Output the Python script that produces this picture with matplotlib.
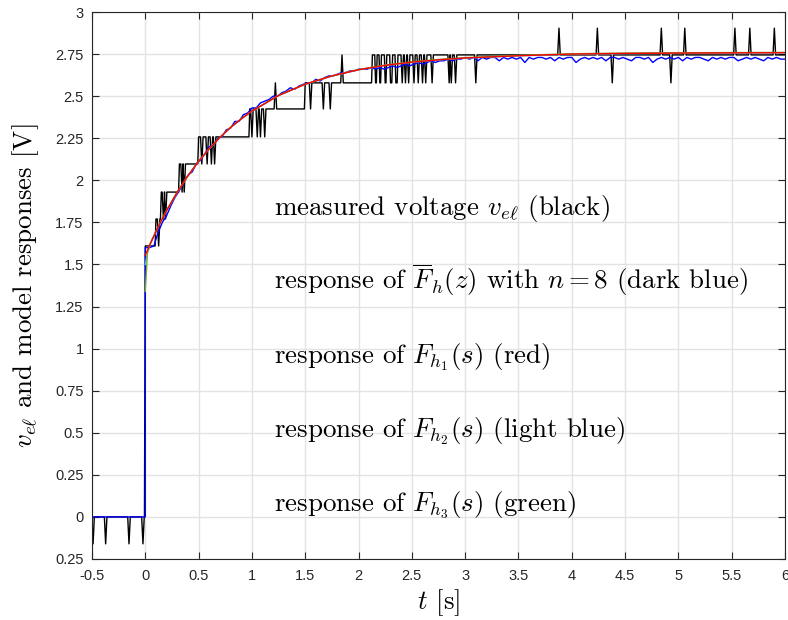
import numpy as np
import matplotlib
matplotlib.use("Agg")
import matplotlib.pyplot as plt

plt.rcParams['mathtext.fontset'] = 'cm'

# ---------------- data ----------------
# measured voltage: level changes (time, new level) + short glitches (time, value)
chg_t = [-0.5, 0.0, 0.10, 0.15, 0.32, 0.50, 0.98, 1.50,
         2.13, 2.16, 2.175, 2.20, 2.215, 2.25, 2.265, 2.30, 2.32, 2.35, 2.37]
chg_v = [0.0, 1.61, 1.77, 1.93, 2.097, 2.258, 2.424, 2.579,
         2.745, 2.579, 2.745, 2.579, 2.745, 2.579, 2.745, 2.579, 2.745, 2.579, 2.745]
glitch_t = [-0.49, -0.372, -0.153, -0.022,
            0.125, 0.17, 0.19, 0.345, 0.365,
            0.53, 0.58, 0.62, 0.65,
            1.00, 1.05, 1.08, 1.12, 1.22,
            1.55, 1.67, 1.735, 1.845,
            2.41, 2.44, 2.47, 2.52, 2.56, 2.60, 2.63, 2.69, 2.85, 2.87, 2.91, 3.10,
            3.88, 4.24, 4.38, 4.84, 4.93, 5.06, 5.53, 5.67, 5.90]
glitch_v = [-0.16, -0.16, -0.16, -0.16,
            1.61, 1.77, 1.77, 1.93, 1.93,
            2.097, 2.097, 2.097, 2.097,
            2.258, 2.258, 2.258, 2.258, 2.579,
            2.424, 2.424, 2.424, 2.745,
            2.579, 2.579, 2.579, 2.579, 2.579, 2.579, 2.579, 2.579, 2.579, 2.579, 2.579, 2.579,
            2.904, 2.904, 2.579, 2.904, 2.579, 2.904, 2.904, 2.904, 2.904]

# response of the discrete model (dark blue), sampled every 0.04 s from t = 0
blue_v = [1.60, 1.60, 1.61, 1.69, 1.75, 1.79, 1.85, 1.90, 1.94, 1.99, 2.03,
          2.05, 2.10, 2.12, 2.16, 2.20, 2.21, 2.25, 2.26, 2.30, 2.31,
          2.35, 2.35, 2.39, 2.40, 2.43, 2.43, 2.46, 2.47, 2.48, 2.50,
          2.50, 2.52, 2.53, 2.55, 2.54, 2.56, 2.57, 2.58, 2.58, 2.60,
          2.59, 2.61, 2.62, 2.62, 2.63, 2.64, 2.64, 2.65, 2.65, 2.66,
          2.66, 2.66, 2.67, 2.66, 2.67, 2.66, 2.67, 2.68, 2.67, 2.68,
          2.69, 2.68, 2.69, 2.70, 2.69, 2.70, 2.71, 2.70, 2.71, 2.71,
          2.72, 2.71, 2.72, 2.72, 2.73,
          2.72, 2.73, 2.71, 2.73, 2.72, 2.73, 2.73, 2.71, 2.73, 2.72,
          2.73, 2.72, 2.73, 2.70, 2.73, 2.72, 2.73, 2.73, 2.72, 2.73,
          2.71, 2.73, 2.72, 2.73, 2.73, 2.70, 2.72, 2.73, 2.72, 2.73,
          2.72, 2.73, 2.71, 2.73, 2.73, 2.72, 2.73, 2.72, 2.71, 2.73,
          2.73, 2.72, 2.73, 2.70, 2.72, 2.73, 2.72, 2.73, 2.72, 2.73,
          2.71, 2.73, 2.72, 2.73, 2.73, 2.72, 2.71, 2.73, 2.72, 2.73,
          2.72, 2.73, 2.73, 2.71, 2.72, 2.73, 2.72, 2.73, 2.72, 2.71,
          2.73, 2.72, 2.73, 2.72, 2.72]

# continuous model responses
model_t = [0.0, 0.02, 0.05, 0.1, 0.15, 0.2, 0.3, 0.4, 0.5, 0.6, 0.7, 0.8, 0.9, 1.0,
           1.25, 1.5, 1.75, 2.0, 2.25, 2.5, 2.75, 3.0, 3.5, 4.0, 4.5, 5.0, 6.0]
red_v = [1.555, 1.585, 1.628, 1.696, 1.760, 1.820, 1.930, 2.027, 2.113, 2.188, 2.255,
         2.314, 2.365, 2.411, 2.504, 2.571, 2.620, 2.657, 2.683, 2.702, 2.716, 2.727,
         2.740, 2.750, 2.754, 2.756, 2.758]
lblue_v = [1.50, 1.57, 1.625, 1.694, 1.758, 1.819, 1.929, 2.026, 2.112, 2.187, 2.254,
           2.313, 2.364, 2.410, 2.503, 2.570, 2.619, 2.656, 2.682, 2.701, 2.715, 2.726,
           2.739, 2.749, 2.753, 2.755, 2.757]
green_v = [1.34, 1.57, 1.630, 1.698, 1.762, 1.822, 1.931, 2.028, 2.114, 2.189, 2.256,
           2.315, 2.366, 2.412, 2.505, 2.572, 2.621, 2.658, 2.685, 2.704, 2.718, 2.729,
           2.742, 2.752, 2.756, 2.758, 2.760]

labels = [r"measured voltage $v_{e\ell}$ (black)",
          r"response of $\overline{F}_h(z)$ with $n=8$ (dark blue)",
          r"response of $F_{h_1}(s)$ (red)",
          r"response of $F_{h_2}(s)$ (light blue)",
          r"response of $F_{h_3}(s)$ (green)"]
label_y = [1.794, 1.353, 0.913, 0.473, 0.031]

xticks = [-0.5, 0, 0.5, 1, 1.5, 2, 2.5, 3, 3.5, 4, 4.5, 5, 5.5, 6]
xtick_lbl = ['-0.5', '0', '0.5', '1', '1.5', '2', '2.5', '3', '3.5', '4', '4.5', '5', '5.5', '6']
yticks = [-0.25, 0, 0.25, 0.5, 0.75, 1, 1.25, 1.5, 1.75, 2, 2.25, 2.5, 2.75, 3]
ytick_lbl = ['0.25', '0', '0.25', '0.5', '0.75', '1', '1.25', '1.5', '1.75', '2',
             '2.25', '2.5', '2.75', '3']

# ---------------- build the measured trace ----------------
w = 0.012
edges = chg_t + [6.0]
bt, bv = [], []
for i in range(len(chg_t)):
    t0, t1, lev = edges[i], edges[i + 1], chg_v[i]
    bt.append(t0); bv.append(lev)
    for tg, vg in zip(glitch_t, glitch_v):
        if t0 < tg < t1:
            bt += [tg - w, tg, tg + w]
            bv += [lev, vg, lev]
    bt.append(t1 - 0.008 if i < len(chg_t) - 1 else t1)
    bv.append(lev)

blue_t = [-0.5, 0.0] + list(np.linspace(0.0, 6.0, len(blue_v)))
blue_all = [0.0, 0.0] + blue_v

# ---------------- plot ----------------
fig = plt.figure(figsize=(7.88, 6.2), dpi=100)
ax = fig.add_axes([92/788, 61/620, 693/788, 547/620])

lw = 1.0
ax.plot(bt, bv, color='k', lw=lw)
ax.plot(blue_t, blue_all, color='#0000ff', lw=lw)
ax.plot(model_t, lblue_v, color='#4dbeee', lw=lw)
ax.plot(model_t, green_v, color='#77ac30', lw=lw)
ax.plot(model_t, red_v, color='#ff0000', lw=lw)

fs = 19.4
for s, y in zip(labels, label_y):
    ax.text(1.21, y, s, fontsize=fs, family='cmr10', va='baseline', ha='left')

ax.set_xlim(-0.5, 6)
ax.set_ylim(-0.25, 3)
ax.set_xticks(xticks)
ax.set_xticklabels(xtick_lbl)
ax.set_yticks(yticks)
ax.set_yticklabels(ytick_lbl)
ax.tick_params(direction='in', length=5, width=0.8, top=True, right=True,
               labelsize=10.5, colors='#262626')
ax.tick_params(axis='x', pad=7)
ax.tick_params(axis='y', pad=6)
for lab in ax.get_xticklabels() + ax.get_yticklabels():
    lab.set_family('Liberation Sans')
for sp in ax.spines.values():
    sp.set_color('#262626')
    sp.set_linewidth(0.8)
ax.grid(True, color='#e3e3e3', lw=1.0)
ax.set_axisbelow(True)

fig.text(438.5/788, 1 - 603/620, r"$t$ [s]", fontsize=fs, family='cmr10',
         ha='center', va='center')
fig.text(26/788, 1 - 285.5/620, r"$v_{e\ell}$ and model responses [V]", fontsize=fs,
         family='cmr10', rotation=90, ha='center', va='center')

fig.savefig('out.png', dpi=100)
